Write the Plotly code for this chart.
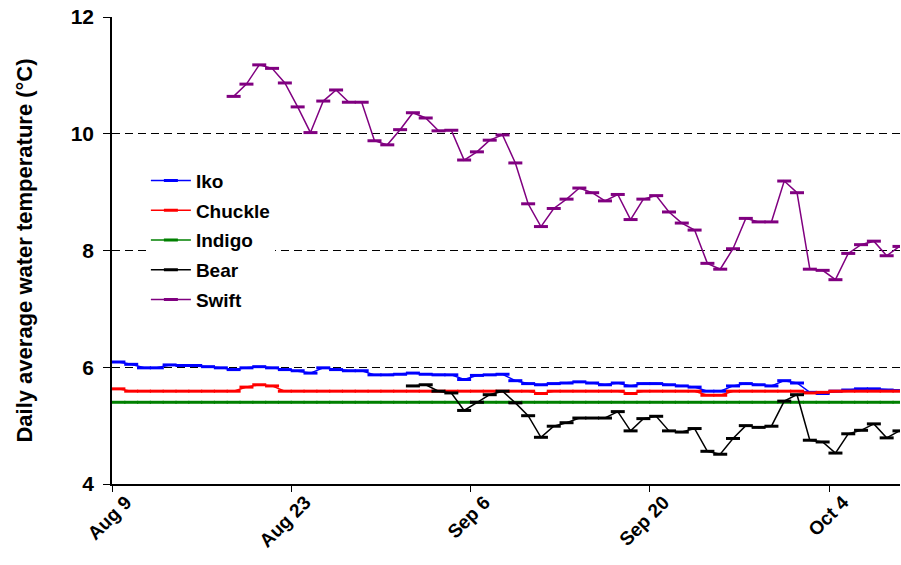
import pandas as pd
import plotly.graph_objects as go

# Daily average water temperature (°C) per stream
iko = [6.09, 6.05, 5.99, 5.99, 6.04, 6.03, 6.03, 6.01, 5.99, 5.96, 5.99, 6.01, 5.99, 5.96, 5.94,
       5.90, 5.99, 5.96, 5.94, 5.94, 5.87, 5.87, 5.88, 5.90, 5.88, 5.87, 5.87, 5.79, 5.86, 5.87,
       5.88, 5.77, 5.72, 5.70, 5.72, 5.73, 5.75, 5.73, 5.70, 5.73, 5.68, 5.72, 5.72, 5.70, 5.68,
       5.66, 5.59, 5.59, 5.68, 5.72, 5.70, 5.68, 5.77, 5.73, 5.57, 5.55, 5.59, 5.61, 5.63, 5.63,
       5.61, 5.60]
chuckle = [5.63, 5.59, 5.59, 5.59, 5.59, 5.59, 5.59, 5.59, 5.59, 5.59, 5.66, 5.70, 5.68, 5.59,
           5.59, 5.59, 5.59, 5.59, 5.59, 5.59, 5.59, 5.59, 5.59, 5.59, 5.59, 5.59, 5.59, 5.59,
           5.59, 5.59, 5.59, 5.59, 5.59, 5.55, 5.59, 5.59, 5.59, 5.59, 5.59, 5.59, 5.55, 5.59,
           5.59, 5.59, 5.59, 5.59, 5.52, 5.52, 5.59, 5.59, 5.59, 5.59, 5.59, 5.59, 5.56, 5.57,
           5.59, 5.59, 5.59, 5.59, 5.59, 5.59]
indigo = [5.40] * 62
bear = [5.68, 5.70, 5.59, 5.56, 5.26, 5.40, 5.53,
        5.59, 5.39, 5.17, 4.80, 4.99, 5.05, 5.13, 5.13, 5.13, 5.24, 4.91, 5.12, 5.16, 4.91, 4.89,
        4.95, 4.56, 4.51, 4.78, 5.00, 4.97, 4.99, 5.42, 5.53, 4.75, 4.72, 4.53, 4.86, 4.92, 5.03,
        4.79, 4.91]
swift = [10.64, 10.85, 11.18, 11.12, 10.87, 10.46, 10.02, 10.56, 10.75, 10.54, 10.54, 9.88,
         9.81, 10.07, 10.36, 10.27, 10.05, 10.06, 9.55, 9.69, 9.89, 9.98, 9.50, 8.80, 8.41,
         8.72, 8.88, 9.07, 8.99, 8.85, 8.96, 8.53, 8.88, 8.94, 8.66, 8.47, 8.35, 7.78, 7.68,
         8.03, 8.55, 8.49, 8.49, 9.19, 8.99, 7.68, 7.66, 7.50, 7.95, 8.10, 8.16, 7.91, 8.07]

# Record start dates (daily means plotted at mid-day)
start_all = "2008-08-09 12:00"
start_swift = "2008-08-18 12:00"
start_bear = "2008-09-01 12:00"

tick_dates = ["2008-08-09", "2008-08-23", "2008-09-06", "2008-09-20", "2008-10-04"]
tick_labels = ["Aug 9", "Aug 23", "Sep 6", "Sep 20", "Oct 4"]

series = [
    ("Iko", iko, start_all, "#0000FF"),
    ("Chuckle", chuckle, start_all, "#FF0000"),
    ("Indigo", indigo, start_all, "#008000"),
    ("Bear", bear, start_bear, "#000000"),
    ("Swift", swift, start_swift, "#800080"),
]

FONT = "Liberation Sans, Arial, sans-serif"

fig = go.Figure()
for name, vals, start, color in series:
    dates = pd.date_range(start, periods=len(vals), freq="D")
    fig.add_trace(go.Scatter(
        x=dates, y=vals, name=name, mode="lines+markers",
        legendgroup=name,
        line=dict(color=color, width=1.5),
        marker=dict(symbol="line-ew", size=10, color=color,
                    line=dict(color=color, width=3)),
    ))

fig.update_layout(
    width=901, height=565,
    margin=dict(l=112, r=1, t=17, b=81),
    paper_bgcolor="white", plot_bgcolor="white",
    font=dict(family=FONT, color="black"),
    showlegend=True,
    legend=dict(
        x=0.043, y=0.69, xanchor="left", yanchor="top",
        bgcolor="white", borderwidth=0,
        itemwidth=40,
        font=dict(family=FONT, size=19, color="black", weight="bold"),
        tracegroupgap=2,
    ),
    xaxis=dict(
        type="date",
        range=["2008-08-09", "2008-10-09 13:00"],
        tickvals=tick_dates, ticktext=tick_labels,
        tickangle=-45,
        tickfont=dict(family=FONT, size=19, color="black", weight="bold"),
        ticklabelshift=14, ticklabelstandoff=-8,
        showgrid=False, zeroline=False,
        showline=True, linecolor="black", linewidth=1.5,
        ticks="outside", ticklen=6, tickcolor="black", tickwidth=1,
    ),
    yaxis=dict(
        range=[4, 12],
        tickvals=[4, 6, 8, 10, 12],
        tickfont=dict(family=FONT, size=21, color="black", weight="bold"),
        ticklabelstandoff=5,
        showgrid=True, gridcolor="black", gridwidth=1, griddash="8px,5px",
        zeroline=False,
        showline=True, linecolor="black", linewidth=1.5,
        ticks="outside", ticklen=7, tickcolor="black", tickwidth=1,
        title=dict(text="Daily average water temperature (°C)",
                   font=dict(family=FONT, size=22, color="black", weight="bold"),
                   standoff=32),
    ),
)

fig.write_html("out.html")
